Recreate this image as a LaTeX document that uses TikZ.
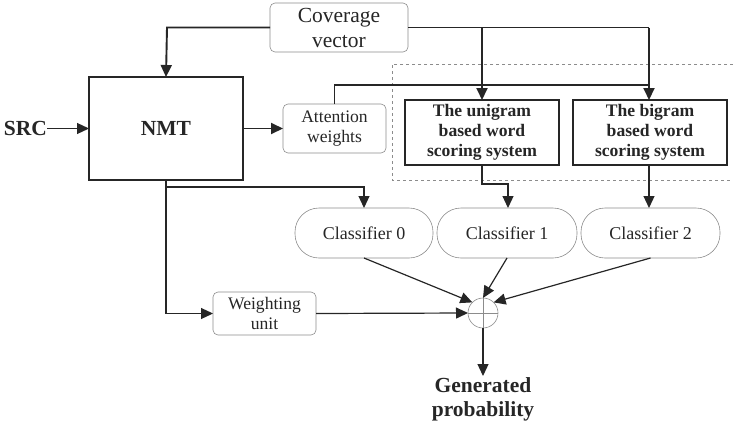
\documentclass[tikz,border=0pt]{standalone}
\usepackage{fontspec}
\setmainfont{Liberation Serif}
\usetikzlibrary{arrows.meta}
\begin{document}
\begin{tikzpicture}[x=1pt,y=-1pt,
  every node/.style={inner sep=0pt, outer sep=0pt, text=black!85},
  soft/.style={draw=black!45, line width=0.6pt, rounded corners=5pt, align=center, font=\fontsize{17.6}{20}\selectfont},
  hardbox/.style={draw=black!85, line width=1.4pt, align=center, font=\bfseries\fontsize{17.6}{20}\selectfont},
  pill/.style={draw=black!45, line width=0.6pt, rounded corners=24pt, font=\fontsize{18}{20}\selectfont},
  conn/.style={draw=black!85, line width=1.9pt, -{Triangle[length=12pt,width=11pt]}},
  thinconn/.style={draw=black!85, line width=1.2pt, -{Triangle[length=12pt,width=11pt]}},
  plain/.style={draw=black!85, line width=1.2pt},
  lbl/.style={font=\bfseries\fontsize{21.5}{24}\selectfont, align=center}]
\useasboundingbox (0,0) rectangle (733,426);

% blocks
\node[soft, minimum width=138pt, minimum height=49pt, font=\fontsize{21.5}{25}\selectfont] (cov) at (339,27.5) {Coverage\\vector};
\node[draw=black!85, line width=1.4pt, minimum width=154pt, minimum height=103pt, lbl] (nmt) at (166,128.5) {NMT};
\node[lbl, anchor=west] (src) at (4,128.5) {SRC};
\node[soft, minimum width=103pt, minimum height=49pt] (att) at (334.5,128.5) {Attention\\weights};
\node[hardbox, minimum width=154pt, minimum height=65pt] (uni) at (482,132.5) {The unigram\\based word\\scoring system};
\node[hardbox, minimum width=154pt, minimum height=65pt] (bi) at (650,132.5) {The bigram\\based word\\scoring system};
\node[pill, minimum width=138pt, minimum height=50pt] (c0) at (364,233) {Classifier 0};
\node[pill, minimum width=140pt, minimum height=50pt] (c1) at (507,233) {Classifier 1};
\node[pill, minimum width=139pt, minimum height=50pt] (c2) at (650.5,233) {Classifier 2};
\node[soft, minimum width=103pt, minimum height=43pt] (wu) at (264.5,313.5) {Weighting\\unit};
\node[circle, draw=black!45, line width=0.6pt, minimum size=30pt] (sum) at (483,313) {};
\draw[black!45, line width=0.6pt] (sum.north) -- (sum.south) (sum.west) -- (sum.east);
\node[lbl] (gen) at (483,399) {Generated\\probability};

% dashed frame around the scoring systems
\draw[black!45, line width=0.6pt, dashed] (733,64) -- (392,64) -- (392,180) -- (733,180);

% coverage vector feeds
\coordinate (covL) at (167,27.5);
\coordinate (covR) at (649,27.5);
\draw[conn] (cov.west) -- (covL) -- (nmt.north);
\draw[plain, line width=1.9pt] (cov.east) -- (covR);
\draw[conn] (482,27.5) -- (uni.north);
\draw[conn] (covR) -- (bi.north -| covR);

% attention weights
\coordinate (attT) at (334.5,85);
\draw[plain] (att.north) -- (attT) -- (649,85);

% main flow
\draw[thinconn] (src.east) -- (nmt.west);
\draw[conn] (nmt.east) -- (att.west);

% NMT branches
\coordinate (nB) at (166,313.5);
\coordinate (nC) at (166,187);
\draw[thinconn] (nmt.south) -- (nB) -- (wu.west);
\draw[thinconn] (nC) -- (364,187) -- (c0.north);

% scoring systems to classifiers
\draw[thinconn] (uni.south) -- (482,184) -- (508,184) -- (c1.north -| 508,0);
\draw[thinconn] (bi.south -| 649,0) -- (c2.north -| 649,0);

% combination
\draw[thinconn] (c0.south) -- (sum.north west);
\draw[thinconn] (c1.south) -- (sum.north);
\draw[thinconn] (c2.south) -- (sum.north east);
\draw[thinconn] (wu.east) -- (sum.west);
\draw[thinconn] (sum.south) -- (483,376);
\end{tikzpicture}
\end{document}
